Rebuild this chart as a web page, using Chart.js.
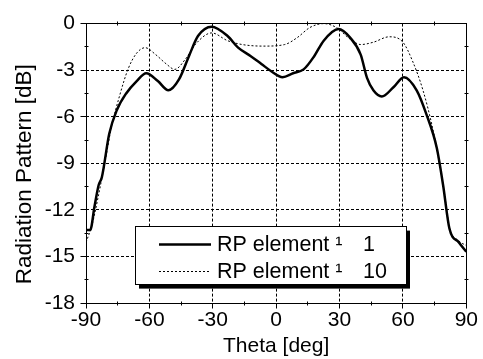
<!DOCTYPE html>
<html>
<head>
<meta charset="UTF-8">
<title>Radiation Pattern</title>
<script src="https://cdn.jsdelivr.net/npm/chart.js@4/dist/chart.umd.min.js"></script>
<style>
    body { margin: 0; background: #fff; }
    #wrap { width: 483px; height: 359px; }
</style>
</head>
<body>
<div id="wrap"><canvas id="rpChart"></canvas></div>
<script>
// angles [deg] and pattern values [dB]
const thetaRP1 = [-90, -88, -86, -84, -82.5, -79, -75.5, -71, -66, -61.5, -56, -51, -46, -41, -37, -30.5, -23, -18, -12, -7, -2, 3, 8, 13, 18, 22.5, 29.5, 35, 40, 43, 46, 50, 55.5, 60.5, 66.5, 71, 76, 79, 82, 86.5, 90];
const valRP1   = [-13.3, -13.3, -11.8, -10.4, -9.9, -7.1, -5.6, -4.5, -3.7, -3.2, -3.7, -4.3, -3.6, -2.0, -0.8, -0.2, -0.8, -1.55, -2.1, -2.6, -3.1, -3.45, -3.2, -2.95, -2.1, -1.1, -0.35, -0.9, -2.0, -3.5, -4.3, -4.7, -4.1, -3.45, -4.3, -5.8, -8.0, -10.4, -13.2, -14.1, -14.7];

const thetaRP10 = [-90, -87, -84, -81, -78, -74, -70, -66, -62, -57, -52, -48, -43, -38, -30.5, -23, -16, -6, 4, 10, 16, 22.5, 28.5, 35, 40, 46, 53.5, 60, 64.5, 69.5, 74, 77, 79.5, 82, 86.5, 90];
const valRP10   = [-14.1, -12.9, -11.0, -8.9, -6.7, -4.6, -2.9, -1.9, -1.55, -2.0, -2.6, -2.95, -2.3, -1.3, -0.6, -1.1, -1.35, -1.45, -1.35, -0.9, -0.25, 0, -0.25, -1.0, -1.35, -1.2, -0.85, -1.2, -2.4, -4.3, -6.7, -8.8, -10.8, -13.1, -14.0, -14.3];

const seriesNames = ['RP element \u00b9', 'RP element \u00b9'];
const seriesIds = ['1', '10'];
const yTitle = 'Radiation Pattern [dB]';
const xTickStep = 30;
const yTickStep = 3;

const FONT = "'Liberation Sans', Arial, sans-serif";

function toPoints(xs, ys) {
    return xs.map((x, i) => ({ x: x, y: ys[i] }));
}

function crisp(p) {
    return Math.round(p - 0.5) + 0.5;
}

// frame, tick marks, y title and the boxed legend
const framePlugin = {
    id: 'framePlugin',
    afterDraw(chart) {
        const { ctx, chartArea: a, scales: { x, y } } = chart;
        const L = crisp(a.left), R = crisp(a.right), T = crisp(a.top), B = crisp(a.bottom);
        ctx.save();
        ctx.strokeStyle = '#000';
        ctx.lineWidth = 1;
        ctx.setLineDash([]);
        ctx.strokeRect(L, T, R - L, B - T);

        ctx.beginPath();
        for (let v = x.min; v <= x.max; v += xTickStep / 2) {
            const px = crisp(x.getPixelForValue(v));
            if ((v - x.min) % xTickStep === 0) {
                ctx.moveTo(px, B); ctx.lineTo(px, B + 5);
            } else {
                ctx.moveTo(px, B - 2); ctx.lineTo(px, B + 2);
                ctx.moveTo(px, T - 2); ctx.lineTo(px, T + 2);
            }
        }
        for (let v = y.min; v <= y.max; v += yTickStep / 2) {
            const py = crisp(y.getPixelForValue(v));
            if ((v - y.min) % yTickStep === 0) {
                ctx.moveTo(L - 6, py); ctx.lineTo(L, py);
            } else {
                ctx.moveTo(L - 2, py); ctx.lineTo(L + 2, py);
                ctx.moveTo(R - 2, py); ctx.lineTo(R + 2, py);
            }
        }
        ctx.stroke();

        // y axis title, sits a bit below the plot centre in the original
        ctx.save();
        ctx.translate(25, (a.top + a.bottom) / 2 + 11);
        ctx.rotate(-Math.PI / 2);
        ctx.font = '22.5px ' + FONT;
        ctx.fillStyle = '#000';
        ctx.textAlign = 'center';
        ctx.textBaseline = 'middle';
        ctx.fillText(yTitle, 0, 0);
        ctx.restore();

        // legend box with drop shadow
        const bx = a.left + 49, by = a.top + 203, bw = 271, bh = 58;
        ctx.fillStyle = '#000';
        ctx.fillRect(bx + 4, by + 4, bw, bh);
        ctx.fillStyle = '#fff';
        ctx.fillRect(bx, by, bw, bh);
        ctx.strokeRect(crisp(bx), crisp(by), bw, bh);

        const ds = chart.data.datasets;
        ctx.font = '21.5px ' + FONT;
        ctx.textBaseline = 'middle';
        ds.forEach((d, i) => {
            const ly = by + 17 + i * 27;
            ctx.beginPath();
            ctx.lineWidth = d.borderWidth;
            ctx.setLineDash(d.borderDash || []);
            ctx.moveTo(bx + 24, Math.round(ly) + 0.5);
            ctx.lineTo(bx + 76, Math.round(ly) + 0.5);
            ctx.stroke();
            ctx.setLineDash([]);
            ctx.fillStyle = '#000';
            ctx.fillText(seriesNames[i], bx + 82, ly + 1);
            ctx.fillText(seriesIds[i], bx + 228, ly + 1);
        });
        ctx.restore();
    }
};

new Chart(document.getElementById('rpChart'), {
    type: 'line',
    data: {
        datasets: [
            {
                label: seriesNames[0] + '  ' + seriesIds[0],
                data: toPoints(thetaRP1, valRP1),
                borderColor: '#000',
                borderWidth: 2.5,
                pointRadius: 0,
                cubicInterpolationMode: 'monotone',
                fill: false
            },
            {
                label: seriesNames[1] + '  ' + seriesIds[1],
                data: toPoints(thetaRP10, valRP10),
                borderColor: '#000',
                borderWidth: 1,
                borderDash: [2, 2],
                pointRadius: 0,
                cubicInterpolationMode: 'monotone',
                fill: false
            }
        ]
    },
    options: {
        responsive: true,
        maintainAspectRatio: false,
        animation: false,
        layout: { padding: { top: 23, right: 13, left: 0, bottom: 0 } },
        plugins: {
            legend: { display: false },
            tooltip: { enabled: false }
        },
        scales: {
            x: {
                type: 'linear',
                min: -90,
                max: 90,
                afterFit: (s) => { s.height = 56; },
                ticks: {
                    stepSize: xTickStep,
                    color: '#000',
                    padding: 5,
                    maxRotation: 0,
                    font: { family: FONT, size: 21 }
                },
                grid: { color: '#000', lineWidth: 1, drawTicks: false },
                border: { display: false, dash: [3, 2] },
                title: {
                    display: true,
                    text: 'Theta [deg]',
                    color: '#000',
                    padding: 0,
                    font: { family: FONT, size: 21 }
                }
            },
            y: {
                min: -18,
                max: 0,
                afterFit: (s) => { s.width = 86; },
                ticks: {
                    stepSize: yTickStep,
                    color: '#000',
                    padding: 11,
                    font: { family: FONT, size: 21 }
                },
                grid: { color: '#000', lineWidth: 1, drawTicks: false },
                border: { display: false, dash: [3, 2] }
            }
        }
    },
    plugins: [framePlugin]
});
</script>
</body>
</html>
